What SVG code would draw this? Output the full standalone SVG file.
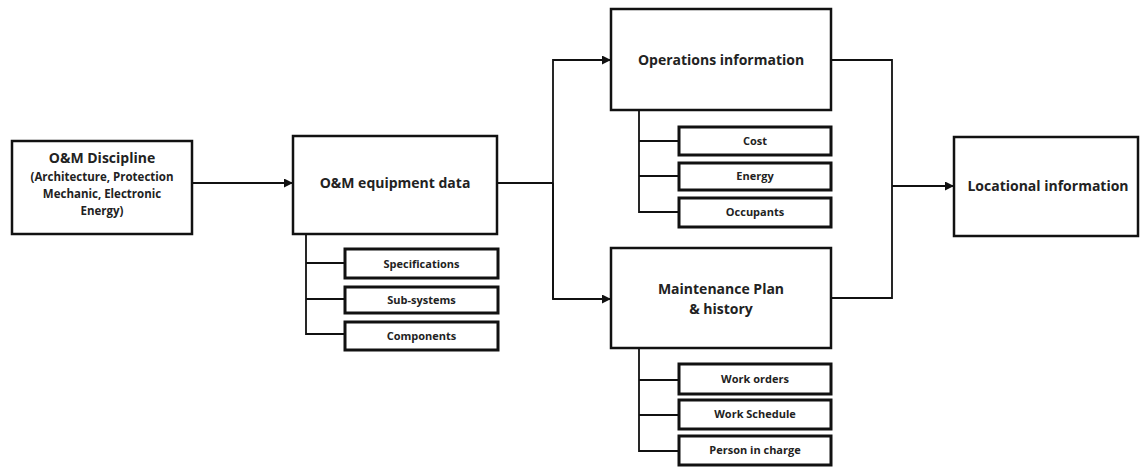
<svg xmlns="http://www.w3.org/2000/svg" width="1148" height="467" viewBox="0 0 1148 467">
<defs>
<marker id="arr" viewBox="0 0 10 10" refX="10" refY="5" markerWidth="9" markerHeight="9" markerUnits="userSpaceOnUse" orient="auto">
<path d="M0,0 L10,5 L0,10 z" fill="#111"/>
</marker>
<style>
.box{fill:#fff;stroke:#111;stroke-width:2.5}
.sub{fill:#fff;stroke:#111;stroke-width:3}
.ln{fill:none;stroke:#111;stroke-width:1.8}
.t{font-family:"Open Sans","Liberation Sans",sans-serif;font-weight:bold;fill:#222;text-anchor:middle}
.big{font-size:14px}
.mid{font-size:11.5px}
.sm{font-size:11px}
</style>
</defs>
<rect width="1148" height="467" fill="#fff"/>
<g id="connectors">
<line class="ln" x1="192" y1="183" x2="293" y2="183" marker-end="url(#arr)"/>
<polyline class="ln" points="497,183 553,183"/>
<polyline class="ln" points="553,299 553,60 611,60" marker-end="url(#arr)"/>
<polyline class="ln" points="553,183 553,299 611,299" marker-end="url(#arr)"/>
<polyline class="ln" points="831,60 892,60 892,298 831,298"/>
<line class="ln" x1="892" y1="186" x2="954" y2="186" marker-end="url(#arr)"/>
<polyline class="ln" points="306,234 306,334 345,334"/>
<line class="ln" x1="306" y1="263" x2="345" y2="263"/>
<line class="ln" x1="306" y1="299" x2="345" y2="299"/>
<polyline class="ln" points="639,110 639,212 679,212"/>
<line class="ln" x1="639" y1="141" x2="679" y2="141"/>
<line class="ln" x1="639" y1="176" x2="679" y2="176"/>
<polyline class="ln" points="639,348 639,451 679,451"/>
<line class="ln" x1="639" y1="380" x2="679" y2="380"/>
<line class="ln" x1="639" y1="415" x2="679" y2="415"/>
</g>
<g id="discipline">
<rect class="box" x="12" y="141" width="180" height="93"/>
<text class="t big" x="102" y="163">O&amp;M Discipline</text>
<text class="t mid" x="102" y="181">(Architecture, Protection</text>
<text class="t mid" x="102" y="198">Mechanic,  Electronic</text>
<text class="t mid" x="102" y="215">Energy)</text>
</g>
<g id="equipment">
<rect class="box" x="293" y="136" width="204" height="98"/>
<text class="t big" x="395" y="188">O&amp;M equipment data</text>
</g>
<g id="specifications">
<rect class="sub" x="345" y="249" width="153" height="29"/>
<text class="t sm" x="421.5" y="267.5">Specifications</text>
</g>
<g id="subsystems">
<rect class="sub" x="345" y="287" width="153" height="26"/>
<text class="t sm" x="421.5" y="304">Sub-systems</text>
</g>
<g id="components">
<rect class="sub" x="345" y="322" width="153" height="28"/>
<text class="t sm" x="421.5" y="339.5">Components</text>
</g>
<g id="operations">
<rect class="box" x="611" y="9" width="220" height="101"/>
<text class="t big" x="721" y="65">Operations information</text>
</g>
<g id="cost">
<rect class="sub" x="679" y="127" width="152" height="28"/>
<text class="t sm" x="755" y="144.5">Cost</text>
</g>
<g id="energy">
<rect class="sub" x="679" y="163" width="152" height="27"/>
<text class="t sm" x="755" y="180">Energy</text>
</g>
<g id="occupants">
<rect class="sub" x="679" y="198" width="152" height="29"/>
<text class="t sm" x="755" y="216">Occupants</text>
</g>
<g id="maintenance">
<rect class="box" x="611" y="248" width="220" height="100"/>
<text class="t big" x="721" y="294">Maintenance Plan</text>
<text class="t big" x="721" y="314">&amp; history</text>
</g>
<g id="workorders">
<rect class="sub" x="679" y="364" width="152" height="30"/>
<text class="t sm" x="755" y="382.5">Work orders</text>
</g>
<g id="workschedule">
<rect class="sub" x="679" y="400" width="152" height="29"/>
<text class="t sm" x="755" y="418">Work Schedule</text>
</g>
<g id="person">
<rect class="sub" x="679" y="436" width="152" height="29"/>
<text class="t sm" x="755" y="454">Person in charge</text>
</g>
<g id="locational">
<rect class="box" x="954" y="137" width="184" height="99"/>
<text class="t big" x="1048" y="191">Locational information</text>
</g>
</svg>
